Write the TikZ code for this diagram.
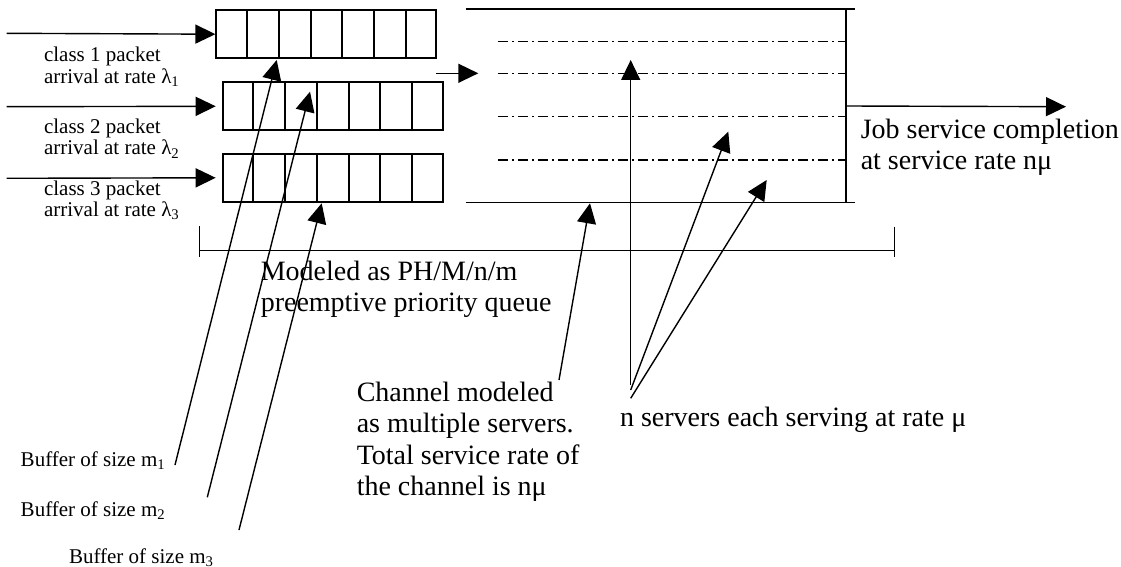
\documentclass[tikz,border=0pt]{standalone}
\usepackage{fontspec}
\setmainfont{Liberation Serif}
\usetikzlibrary{arrows.meta,positioning,calc}
\tikzset{
  arr/.style={-{Triangle[length=10pt,width=9.5pt]},line width=0.7pt},
  buf/.style={draw,line width=1pt,minimum width=110pt,minimum height=24pt,inner sep=0pt},
  srv/.style={line width=0.75pt,dash pattern=on 5pt off 2pt on 1pt off 2pt},
  lab/.style={font=\fontsize{10.5}{10.85}\selectfont,inner sep=0pt,anchor=base west,align=left},
  note/.style={font=\fontsize{14}{15.75}\selectfont,inner sep=0pt,anchor=base west,align=left},
}

\begin{document}
\begin{tikzpicture}[x=0.5pt,y=-0.5pt,line width=0.75pt]
  \useasboundingbox (0,0) rectangle (1121,567);
  % three priority buffers
  \node[buf] (q1) at (326.4,34.2) {};
  \node[buf] (q2) at (332.7,106.3) {};
  \node[buf] (q3) at (332.7,177.8) {};
  \foreach \q in {q1,q2,q3}
    \foreach \k in {1,...,6}
      \draw[line width=1pt] ($(\q.south west)!\k/7!(\q.south east)$) -- ($(\q.north west)!\k/7!(\q.north east)$);
  \coordinate (s1) at (6.7,33.3);
  \coordinate (s2) at (6.7,106.7);
  \coordinate (s3) at (6.7,178.3);
  \draw[arr] (s1) -- (q1.west);
  \draw[arr] (s2) -- ([xshift=-3pt]q2.west);
  \draw[arr] (s3) -- ([xshift=-3pt]q3.west);
  % (base = last line of a label)
  \node[lab] (c1) at (43.3,83.3) {class 1 packet\\arrival at rate λ\textsubscript{1}};
  \node[lab] (c2) at (43.3,155) {class 2 packet\\arrival at rate λ\textsubscript{2}};
  \node[lab] (c3) at (43.3,216.7) {class 3 packet\\arrival at rate λ\textsubscript{3}};

  % channel with n servers
  \node[minimum width=189.15pt,minimum height=96pt,inner sep=0pt] (chan) at (655.85,106) {};
  \draw (chan.north west) -- ++(389.3,0);
  \draw (chan.south west) -- ++(389.3,0);
  \draw (chan.north east) -- (chan.south east);
  \foreach \y in {41.7,73.3,116.7,160}
    \draw[srv] (498.3,\y) -- (chan.east |- 0,\y);
  \coordinate (feed) at (436,73.3);
  \coordinate (feedend) at (478.3,73.3);
  \draw[arr] (feed) -- (feedend);
  \coordinate (done) at (1066,106.7);
  \draw[arr] (chan.east) -- (done);
  \node[note] (job) at (860,170) {Job service completion\\at service rate nμ};

  % bracket for the whole queue
  \coordinate (bl) at (199.3,250.7);
  \coordinate (br) at (894.3,250.7);
  \draw (bl) -- (br);
  \draw ($(bl)+(0,-24.7)$) -- ($(bl)+(0,6)$);
  \draw ($(br)+(0,-24)$) -- ($(br)+(0,6)$);
  \node[note] (model) at (260,311.7) {Modeled as PH/M/n/m\\preemptive priority queue};

  % buffer callouts
  \node[lab] (b1) at (20,466.7) {Buffer of size m\textsubscript{1}};
  \node[lab] (b2) at (20,516) {Buffer of size m\textsubscript{2}};
  \node[lab] (b3) at (68.3,563.3) {Buffer of size m\textsubscript{3}};
  \coordinate (m1) at (175,465);     \coordinate (m1t) at (276.7,60);
  \coordinate (m2) at (207.3,497.3); \coordinate (m2t) at (310,91.7);
  \coordinate (m3) at (239,530);     \coordinate (m3t) at (321.7,203.3);
  \draw[arr] (m1) -- (m1t);
  \draw[arr] (m2) -- (m2t);
  \draw[arr] (m3) -- (m3t);

  % channel callout
  \coordinate (ch0) at (559,380);
  \coordinate (cht) at (590,203.3);
  \draw[arr] (ch0) -- (cht);
  \node[note] (chlbl) at (356,495.5) {Channel modeled\\as multiple servers.\\Total service rate of\\the channel is nμ};

  % server callouts
  \coordinate (n0) at (630.7,385);   \coordinate (t0) at (630.7,60);
  \coordinate (n1) at (630.7,390);   \coordinate (t1) at (728.3,131.7);
  \coordinate (n2) at (630.7,398.3); \coordinate (t2) at (766.7,180);
  \draw[arr] (n0) -- (t0);
  \draw[arr] (n1) -- (t1);
  \draw[arr] (n2) -- (t2);
  \node[note] (nsrv) at (619.3,426.7) {n servers each serving at rate μ};
\end{tikzpicture}
\end{document}
